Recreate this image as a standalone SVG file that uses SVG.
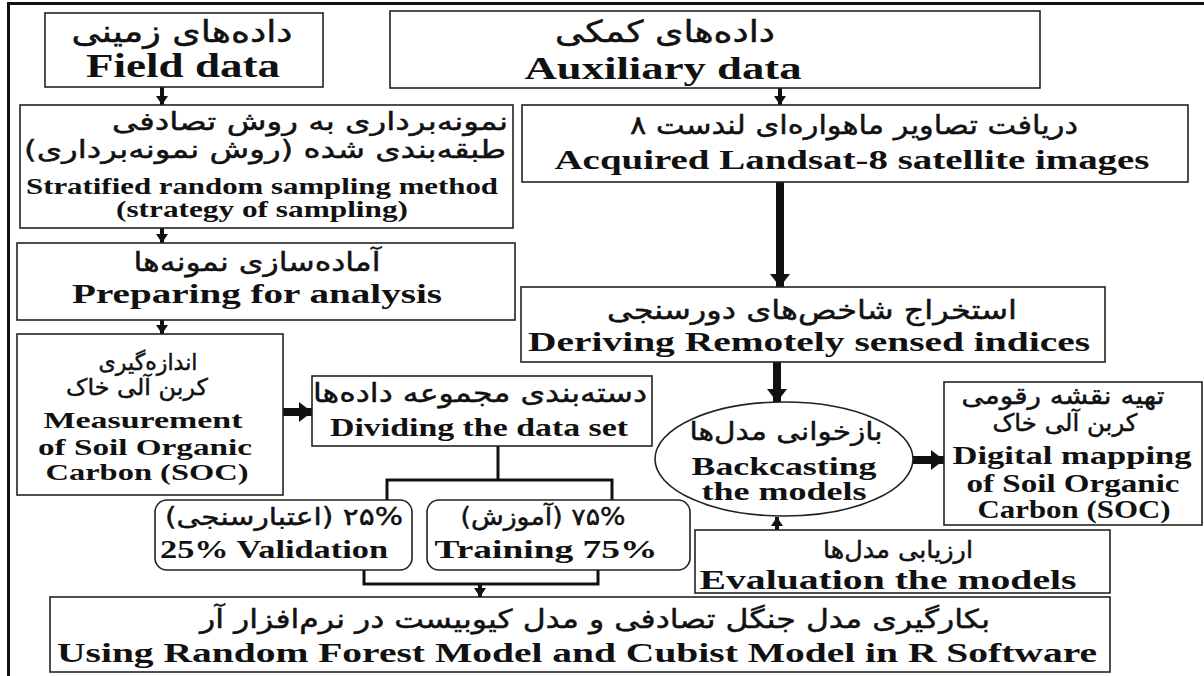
<svg xmlns="http://www.w3.org/2000/svg" width="1204" height="676" viewBox="0 0 1204 676">
<defs>
<style>
.box{fill:#fff;stroke:#222;stroke-width:1.6}
.fa{font-family:"DejaVu Sans",sans-serif;fill:#111;stroke:#111;stroke-width:0.45;text-anchor:middle;direction:rtl}
.en{font-family:"Liberation Serif",serif;font-weight:bold;fill:#111;text-anchor:middle}
.ln{fill:none;stroke:#111;stroke-width:3}
.thin{fill:none;stroke:#111;stroke-width:4}
.thick{fill:none;stroke:#111;stroke-width:8}
</style>
<marker id="ah" markerUnits="userSpaceOnUse" markerWidth="14" markerHeight="14" refX="9" refY="6" orient="auto"><path d="M0,0 L9,6 L0,12 z" fill="#111"/></marker>
<marker id="ahb" markerUnits="userSpaceOnUse" markerWidth="20" markerHeight="22" refX="13" refY="10" orient="auto"><path d="M0,0 L13,10 L0,20 z" fill="#111"/></marker>
</defs>
<rect width="1204" height="676" fill="#fff"/>
<g id="frame"><path d="M8.5,676 V3.5 H1204" fill="none" stroke="#111" stroke-width="3"/></g>

<g id="connectors">
<line class="thin" x1="162" y1="87" x2="162" y2="105" marker-end="url(#ah)"/>
<line class="thin" x1="780" y1="88" x2="780" y2="105" marker-end="url(#ah)"/>
<line class="thick" x1="780" y1="182" x2="780" y2="287" marker-end="url(#ahb)"/>
<line class="thin" x1="162" y1="228" x2="162" y2="243" marker-end="url(#ah)"/>
<line class="thin" x1="162" y1="320" x2="162" y2="334" marker-end="url(#ah)"/>
<line class="thick" x1="283" y1="412" x2="312" y2="412" marker-end="url(#ahb)"/>
<line class="thick" x1="777" y1="362" x2="777" y2="402" marker-end="url(#ahb)"/>
<line class="thick" x1="913" y1="460" x2="944" y2="460" marker-end="url(#ahb)"/>
<line class="thin" x1="777" y1="530" x2="777" y2="517" marker-end="url(#ah)"/>
<polyline class="ln" points="498,446 498,480"/>
<polyline class="ln" points="387,500 387,480 612,480 612,500"/>
<polyline class="ln" points="364,570 364,584 598,584 598,570"/>
<line class="thin" x1="480" y1="584" x2="480" y2="597" marker-end="url(#ah)"/>
</g>

<g id="n-field">
<rect class="box" x="45" y="13" width="278" height="74"/>
<text class="fa" x="182" y="42" font-size="30" textLength="221" lengthAdjust="spacingAndGlyphs">داده‌های زمینی</text>
<text class="en" x="183" y="77" font-size="33" textLength="194" lengthAdjust="spacingAndGlyphs">Field data</text>
</g>

<g id="n-aux">
<rect class="box" x="390" y="11" width="650" height="77"/>
<text class="fa" x="665" y="42" font-size="30" textLength="220" lengthAdjust="spacingAndGlyphs">داده‌های کمکی</text>
<text class="en" x="663" y="79" font-size="32" textLength="277" lengthAdjust="spacingAndGlyphs">Auxiliary data</text>
</g>

<g id="n-landsat">
<rect class="box" x="522" y="105" width="666" height="77"/>
<text class="fa" x="854" y="134" font-size="26" textLength="448" lengthAdjust="spacingAndGlyphs">دریافت تصاویر ماهواره‌ای لندست ۸</text>
<text class="en" x="852" y="169" font-size="27" textLength="595" lengthAdjust="spacingAndGlyphs">Acquired Landsat-8 satellite images</text>
</g>

<g id="n-sampling">
<rect class="box" x="20" y="105" width="493" height="123"/>
<text class="fa" x="310" y="130" font-size="25" textLength="396" lengthAdjust="spacingAndGlyphs">نمونه‌برداری به روش تصادفی</text>
<text class="fa" x="265" y="158" font-size="25" textLength="482" lengthAdjust="spacingAndGlyphs">طبقه‌بندی شده (روش نمونه‌برداری)</text>
<text class="en" x="262" y="194" font-size="23" textLength="472" lengthAdjust="spacingAndGlyphs">Stratified random sampling method</text>
<text class="en" x="262" y="217" font-size="23" textLength="292" lengthAdjust="spacingAndGlyphs">(strategy of sampling)</text>
</g>

<g id="n-prep">
<rect class="box" x="17" y="243" width="498" height="77"/>
<text class="fa" x="257" y="271" font-size="26" textLength="247" lengthAdjust="spacingAndGlyphs">آماده‌سازی نمونه‌ها</text>
<text class="en" x="257" y="303" font-size="28" textLength="370" lengthAdjust="spacingAndGlyphs">Preparing for analysis</text>
</g>

<g id="n-measure">
<rect class="box" x="17" y="334" width="266" height="161"/>
<text class="fa" x="148" y="370" font-size="23" textLength="99" lengthAdjust="spacingAndGlyphs">اندازه‌گیری</text>
<text class="fa" x="137" y="395" font-size="23" textLength="142" lengthAdjust="spacingAndGlyphs">کربن آلی خاک</text>
<text class="en" x="143" y="428" font-size="24" textLength="199" lengthAdjust="spacingAndGlyphs">Measurement</text>
<text class="en" x="145" y="455" font-size="24" textLength="214" lengthAdjust="spacingAndGlyphs">of Soil Organic</text>
<text class="en" x="147" y="480" font-size="24" textLength="203" lengthAdjust="spacingAndGlyphs">Carbon (SOC)</text>
</g>

<g id="n-divide">
<rect class="box" x="312" y="376" width="340" height="70"/>
<text class="fa" x="480" y="402" font-size="26" textLength="334" lengthAdjust="spacingAndGlyphs">دسته‌بندی مجموعه داده‌ها</text>
<text class="en" x="479" y="436" font-size="25" textLength="298" lengthAdjust="spacingAndGlyphs">Dividing the data set</text>
</g>

<g id="n-derive">
<rect class="box" x="521" y="287" width="584" height="75"/>
<text class="fa" x="812" y="319" font-size="26" textLength="410" lengthAdjust="spacingAndGlyphs">استخراج شاخص‌های دورسنجی</text>
<text class="en" x="809" y="351" font-size="27" textLength="562" lengthAdjust="spacingAndGlyphs">Deriving Remotely sensed indices</text>
</g>

<g id="n-backcast">
<ellipse cx="784" cy="459" rx="129" ry="57" fill="#fff" stroke="#222" stroke-width="1.6"/>
<text class="fa" x="786" y="440" font-size="25" textLength="193" lengthAdjust="spacingAndGlyphs">بازخوانی مدل‌ها</text>
<text class="en" x="784" y="475" font-size="25" textLength="185" lengthAdjust="spacingAndGlyphs">Backcasting</text>
<text class="en" x="784" y="500" font-size="25" textLength="165" lengthAdjust="spacingAndGlyphs">the models</text>
</g>

<g id="n-digital">
<rect class="box" x="944" y="382" width="258" height="143"/>
<text class="fa" x="1063" y="404" font-size="24" textLength="203" lengthAdjust="spacingAndGlyphs">تهیه نقشه رقومی</text>
<text class="fa" x="1065" y="431" font-size="24" textLength="145" lengthAdjust="spacingAndGlyphs">کربن آلی خاک</text>
<text class="en" x="1072" y="464" font-size="25" textLength="239" lengthAdjust="spacingAndGlyphs">Digital mapping</text>
<text class="en" x="1073" y="492" font-size="25" textLength="213" lengthAdjust="spacingAndGlyphs">of Soil Organic</text>
<text class="en" x="1074" y="518" font-size="25" textLength="193" lengthAdjust="spacingAndGlyphs">Carbon (SOC)</text>
</g>

<g id="n-valid">
<rect class="box" x="155" y="500" width="257" height="70" rx="12"/>
<text class="fa" x="284" y="525" font-size="24" textLength="238" lengthAdjust="spacingAndGlyphs">۲۵% (اعتبارسنجی)</text>
<text class="en" x="274" y="558" font-size="26" textLength="228" lengthAdjust="spacingAndGlyphs">25% Validation</text>
</g>

<g id="n-train">
<rect class="box" x="427" y="500" width="263" height="70" rx="12"/>
<text class="fa" x="543" y="525" font-size="24" textLength="165" lengthAdjust="spacingAndGlyphs">۷۵% (آموزش)</text>
<text class="en" x="546" y="558" font-size="26" textLength="223" lengthAdjust="spacingAndGlyphs">Training 75%</text>
</g>

<g id="n-eval">
<rect class="box" x="695" y="530" width="415" height="63"/>
<text class="fa" x="898" y="558" font-size="24" textLength="150" lengthAdjust="spacingAndGlyphs">ارزیابی مدل‌ها</text>
<text class="en" x="888" y="589" font-size="28" textLength="377" lengthAdjust="spacingAndGlyphs">Evaluation the models</text>
</g>

<g id="n-rf">
<rect class="box" x="50" y="597" width="1060" height="75"/>
<text class="fa" x="595" y="628" font-size="26" textLength="790" lengthAdjust="spacingAndGlyphs">بکارگیری مدل جنگل تصادفی و مدل کیوبیست در نرم‌افزار آر</text>
<text class="en" x="577" y="662" font-size="28" textLength="1040" lengthAdjust="spacingAndGlyphs">Using Random Forest Model and Cubist Model in R Software</text>
</g>
</svg>
